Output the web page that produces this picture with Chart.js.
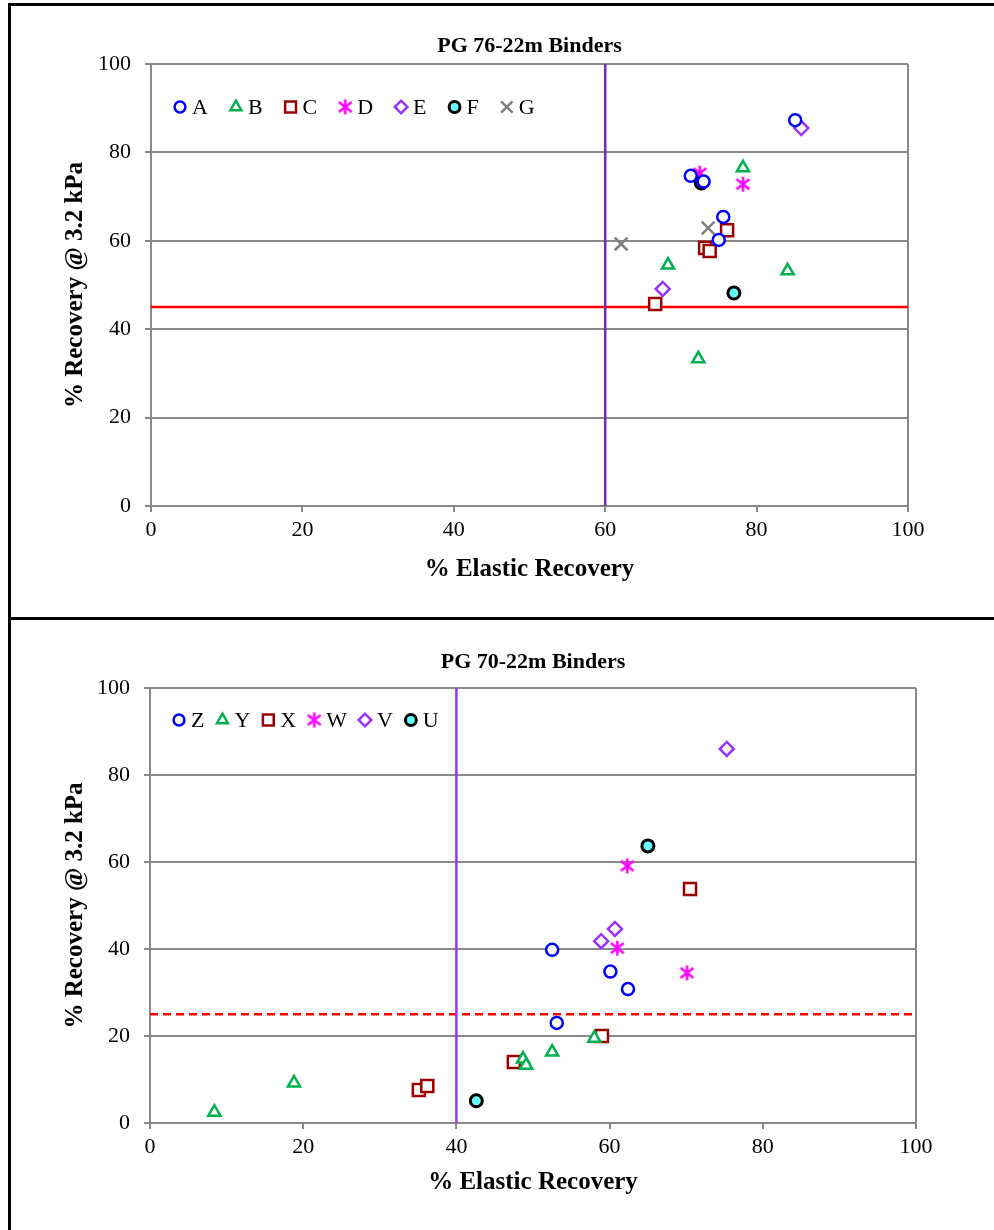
<!DOCTYPE html>
<html>
<head>
<meta charset="utf-8">
<script src="https://cdn.jsdelivr.net/npm/chart.js@4.4.1/dist/chart.umd.min.js"></script>
<style>
  body { margin: 0; background: #fff; width: 994px; height: 1230px; position: relative; overflow: hidden; }
  .rule { position: absolute; background: #000; }
  canvas { position: absolute; }
</style>
</head>
<body>
<div class="rule" style="left:8px;top:3px;width:3px;height:1227px"></div>
<div class="rule" style="left:8px;top:3px;width:986px;height:3px"></div>
<div class="rule" style="left:8px;top:617px;width:986px;height:3px"></div>
<canvas id="chartTop" width="983" height="611" style="left:11px;top:6px"></canvas>
<canvas id="chartBottom" width="983" height="610" style="left:11px;top:620px"></canvas>
<script>
// ---- PG 76-22m binders (% elastic recovery, % recovery @ 3.2 kPa) ----
const aX = [85.1, 71.3, 73.0, 75.6, 75.0];
const aY = [87.3, 74.7, 73.4, 65.4, 60.2];
const bX = [78.2, 68.3, 84.1, 72.3];
const bY = [76.5, 54.5, 53.2, 33.3];
const cX = [76.1, 73.2, 73.8, 66.6];
const cY = [62.4, 58.4, 57.7, 45.7];
const dX = [72.5, 78.2];
const dY = [75.3, 72.8];
const eX = [85.9, 67.6];
const eY = [85.5, 49.1];
const fX = [72.7, 77.0];
const fY = [73.1, 48.2];
const gX = [73.6, 62.1];
const gY = [62.9, 59.3];
const topLimitX = 60;
const topLimitY = 45;

// ---- PG 70-22m binders ----
const zX = [52.5, 60.1, 62.4, 53.1];
const zY = [39.8, 34.8, 30.8, 23.0];
const yX = [8.4, 18.8, 52.5, 48.7, 49.1, 58.0];
const yY = [2.5, 9.2, 16.3, 14.7, 13.3, 19.5];
const xX = [47.5, 59.0, 70.5, 35.1, 36.2];
const xY = [14.0, 20.0, 53.8, 7.6, 8.5];
const wX = [61.0, 70.1, 62.3];
const wY = [40.2, 34.5, 59.1];
const vX = [58.9, 60.7, 75.3];
const vY = [41.8, 44.6, 86.0];
const uX = [65.0, 42.6];
const uY = [63.7, 5.1];
const bottomLimitX = 40;
const bottomLimitY = 25;

const axisTicks = [0, 20, 40, 60, 80, 100];

const SERIF = "'Liberation Serif', 'Times New Roman', serif";
const GRID = '#898989';
Chart.defaults.font.family = SERIF;
Chart.defaults.color = '#000';

// Excel style asterisk marker (vertical bar + X)
function makeAsterisk(color, size) {
    const c = document.createElement('canvas');
    c.width = size; c.height = size;
    const g = c.getContext('2d');
    const m = size / 2, e = size - 1;
    g.strokeStyle = color;
    g.lineWidth = 2.5;
    g.beginPath();
    g.moveTo(m, 1); g.lineTo(m, e);
    g.moveTo(m - size * 0.38, m - size * 0.3); g.lineTo(m + size * 0.38, m + size * 0.3);
    g.moveTo(m + size * 0.38, m - size * 0.3); g.lineTo(m - size * 0.38, m + size * 0.3);
    g.stroke();
    return c;
}

const markers = {
    circle:  { pointStyle: 'circle', radius: 6, color: '#0000FF', fill: '#FFFFFF', width: 2.5 },
    tri:     { pointStyle: 'triangle', radius: 7, color: '#00B050', fill: '#FFFFFF', width: 2.5 },
    square:  { pointStyle: 'rect', radius: 8.5, color: '#990000', fill: '#FFFFFF', width: 2.5 },
    star:    { pointStyle: makeAsterisk('#FF00FF', 17), radius: 8, color: '#FF00FF', fill: '#FF00FF', width: 2.5 },
    diamond: { pointStyle: 'rectRot', radius: 7, color: '#9933FF', fill: '#FFFFFF', width: 2.5 },
    dot:     { pointStyle: 'circle', radius: 6, color: '#000000', fill: '#66FFFF', width: 3 },
    cross:   { pointStyle: 'crossRot', radius: 9, color: '#808080', fill: '#808080', width: 2.5 }
};

function pts(xs, ys) {
    return xs.map((x, i) => ({ x: x, y: ys[i] }));
}

function seriesSet(label, xs, ys, m) {
    return {
        label: label,
        marker: m,
        data: pts(xs, ys),
        pointStyle: m.pointStyle,
        pointRadius: m.radius,
        pointHoverRadius: m.radius,
        borderColor: m.color,
        backgroundColor: m.fill,
        borderWidth: m.width,
        showLine: false,
        order: 0
    };
}

function guideLine(xs, ys, color, dash) {
    return {
        label: 'guide',
        isGuide: true,
        data: pts(xs, ys),
        showLine: true,
        pointRadius: 0,
        borderColor: color,
        borderWidth: 2.5,
        borderDash: dash,
        order: 1
    };
}

// Legend drawn as one row inside the plot area, like the Excel original
const insideLegend = {
    id: 'insideLegend',
    afterDatasetsDraw(chart, args, opts) {
        const { ctx, chartArea } = chart;
        let x = chartArea.left + opts.offsetX;
        const y = chartArea.top + opts.offsetY;
        ctx.save();
        ctx.font = '22px ' + SERIF;
        ctx.textBaseline = 'middle';
        ctx.textAlign = 'left';
        chart.data.datasets.forEach(ds => {
            if (ds.isGuide) return;
            const m = ds.marker;
            ctx.strokeStyle = m.color;
            ctx.fillStyle = m.fill;
            ctx.lineWidth = m.width;
            Chart.helpers.drawPoint(ctx, { pointStyle: m.pointStyle, radius: m.radius * 0.9, rotation: 0, borderWidth: m.width }, x, y);
            ctx.fillStyle = '#000';
            ctx.fillText(ds.label, x + 12, y + 1);
            x += 12 + ctx.measureText(ds.label).width + opts.gap;
        });
        ctx.restore();
    }
};

function makeOptions(cfg) {
    return {
        responsive: false,
        animation: false,
        layout: { padding: { left: 0, right: cfg.padRight, top: 0, bottom: 0 } },
        scales: {
            x: {
                type: 'linear', min: 0, max: 100,
                afterBuildTicks: s => { s.ticks = axisTicks.map(v => ({ value: v })); },
                ticks: { font: { size: 22 }, color: '#000', padding: 5 },
                grid: {
                    color: c => (c.tick && c.tick.value === 100) ? GRID : 'rgba(0,0,0,0)',
                    lineWidth: 2, tickLength: 6, tickColor: GRID, tickWidth: 2
                },
                border: { color: GRID, width: 2 },
                title: { display: true, text: '% Elastic Recovery', font: { size: 25, weight: 'bold' }, padding: { top: 0, bottom: 32 } },
                afterFit: s => { s.height = cfg.xHeight; }
            },
            y: {
                type: 'linear', min: 0, max: 100,
                afterBuildTicks: s => { s.ticks = axisTicks.map(v => ({ value: v })); },
                ticks: { font: { size: 22 }, color: '#000', padding: 14 },
                grid: { color: GRID, lineWidth: 2, tickLength: 6, tickColor: GRID, tickWidth: 2 },
                border: { color: GRID, width: 2 },
                title: { display: true, text: '% Recovery @ 3.2 kPa', font: { size: 25, weight: 'bold' }, padding: { top: 50, bottom: 0 } },
                afterFit: s => { s.width = cfg.yWidth; }
            }
        },
        plugins: {
            title: {
                display: true, text: cfg.title, fullSize: false, color: '#000',
                font: { size: 22, weight: 'bold' },
                padding: { top: cfg.titleTop, bottom: cfg.titleBottom }
            },
            legend: { display: false },
            insideLegend: { offsetX: 29, offsetY: cfg.legendY, gap: cfg.legendGap },
            tooltip: { enabled: false }
        }
    };
}

// Top chart
new Chart(document.getElementById('chartTop').getContext('2d'), {
    type: 'scatter',
    data: {
        datasets: [
            seriesSet('A', aX, aY, markers.circle),
            seriesSet('B', bX, bY, markers.tri),
            seriesSet('C', cX, cY, markers.square),
            seriesSet('D', dX, dY, markers.star),
            seriesSet('E', eX, eY, markers.diamond),
            seriesSet('F', fX, fY, markers.dot),
            seriesSet('G', gX, gY, markers.cross),
            guideLine([topLimitX, topLimitX], [0, 100], '#7030A0', []),
            guideLine([0, 100], [topLimitY, topLimitY], '#FF0000', [])
        ]
    },
    options: makeOptions({
        title: 'PG 76-22m Binders', padRight: 86, xHeight: 111, yWidth: 140,
        titleTop: 26.8, titleBottom: 4.8, legendY: 43, legendGap: 28
    }),
    plugins: [insideLegend]
});

// Bottom chart
new Chart(document.getElementById('chartBottom').getContext('2d'), {
    type: 'scatter',
    data: {
        datasets: [
            seriesSet('Z', zX, zY, markers.circle),
            seriesSet('Y', yX, yY, markers.tri),
            seriesSet('X', xX, xY, markers.square),
            seriesSet('W', wX, wY, markers.star),
            seriesSet('V', vX, vY, markers.diamond),
            seriesSet('U', uX, uY, markers.dot),
            guideLine([bottomLimitX, bottomLimitX], [0, 100], '#9933FF', []),
            guideLine([0, 100], [bottomLimitY, bottomLimitY], '#FF0000', [8, 5])
        ]
    },
    options: makeOptions({
        title: 'PG 70-22m Binders', padRight: 78, xHeight: 107, yWidth: 139,
        titleTop: 28.8, titleBottom: 12.8, legendY: 32, legendGap: 18
    }),
    plugins: [insideLegend]
});
</script>
</body>
</html>
